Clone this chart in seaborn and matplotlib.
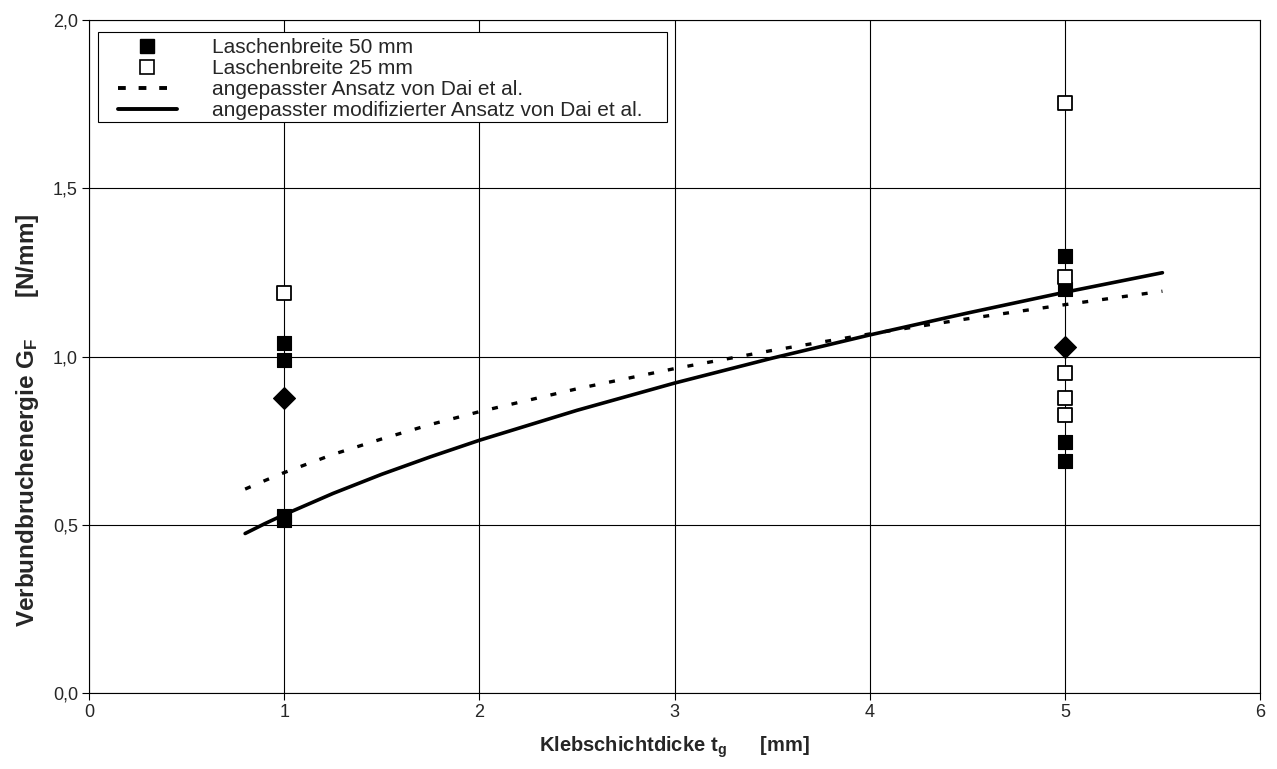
import numpy as np
import pandas as pd
import matplotlib
matplotlib.use("Agg")
import matplotlib.pyplot as plt
from matplotlib.lines import Line2D
from matplotlib.patches import Rectangle
from matplotlib.ticker import FuncFormatter
import seaborn as sns

# ---- data ----
x_50 = [1, 1, 1, 1, 5, 5, 5, 5]
g_50 = [1.04, 0.99, 0.515, 0.525, 1.30, 1.20, 0.745, 0.69]

x_25 = [1, 5, 5, 5, 5, 5]
g_25 = [1.19, 1.754, 1.237, 0.951, 0.877, 0.826]

x_mean = [1, 5]
g_mean = [0.878, 1.029]

x_fit = [0.8, 0.9, 1.0, 1.25, 1.5, 1.75, 2.0, 2.5, 3.0, 3.5, 4.0, 4.5, 5.0, 5.5]
g_dai = [0.606, 0.631, 0.655, 0.709, 0.755, 0.798, 0.836, 0.904, 0.964, 1.018,
         1.067, 1.112, 1.154, 1.194]
g_dai_mod = [0.474, 0.503, 0.530, 0.593, 0.650, 0.702, 0.751, 0.840, 0.921, 0.995,
             1.064, 1.129, 1.191, 1.249]

labels = ["Laschenbreite 50 mm", "Laschenbreite 25 mm",
          "angepasster Ansatz von Dai et al.",
          "angepasster modifizierter Ansatz von Dai et al."]

x_ticks = [0, 1, 2, 3, 4, 5, 6]
y_ticks = [0.0, 0.5, 1.0, 1.5, 2.0]

# ---- style ----
sns.set_theme(style="white")
plt.rcParams["font.family"] = ["Liberation Sans", "DejaVu Sans"]
plt.rcParams["mathtext.fontset"] = "custom"
plt.rcParams["mathtext.rm"] = "Liberation Sans:bold"
plt.rcParams["mathtext.bf"] = "Liberation Sans:bold"
plt.rcParams["mathtext.it"] = "Liberation Sans:bold"

W, H = 1277, 769
L, R, T, B = 89, 1260, 20, 693
fig = plt.figure(figsize=(W / 100, H / 100), dpi=100)
ax = fig.add_axes([L / W, 1 - B / H, (R - L) / W, (B - T) / H])

def ax_x(px):
    return (px - L) / (R - L)

def ax_y(py):
    return (B - py) / (B - T)

df_fit = pd.DataFrame({"x": x_fit, "dai": g_dai, "mod": g_dai_mod})
sns.lineplot(data=df_fit, x="x", y="dai", ax=ax, color="black", lw=2.4, zorder=3)
ax.lines[-1].set_dashes((1.8, 4.2))
sns.lineplot(data=df_fit, x="x", y="mod", ax=ax, color="black", lw=2.6, zorder=3)

sns.scatterplot(x=x_50, y=g_50, ax=ax, marker="s", s=105, color="black",
                edgecolor="black", linewidth=0.8, zorder=4)
sns.scatterplot(x=x_25, y=g_25, ax=ax, marker="s", s=105, facecolor="white",
                edgecolor="black", linewidth=1.3, zorder=4)
sns.scatterplot(x=x_mean, y=g_mean, ax=ax, marker="D", s=125, color="black",
                edgecolor="black", linewidth=0.8, zorder=4)

ax.set_xlim(0, 6)
ax.set_ylim(0, 2.0)
ax.set_xticks(x_ticks)
ax.set_yticks(y_ticks)
ax.xaxis.set_major_formatter(FuncFormatter(lambda v, p: f"{v:.0f}"))
ax.yaxis.set_major_formatter(FuncFormatter(lambda v, p: f"{v:.1f}".replace(".", ",")))
ax.tick_params(axis="both", labelsize=13, length=5, width=0.8, color="black",
               direction="out", bottom=True, left=True, pad=3)
ax.grid(True, color="black", lw=0.8)
ax.set_axisbelow(True)
for sp in ax.spines.values():
    sp.set_color("black")
    sp.set_linewidth(0.8)

ax.set_xlabel(r"Klebschichtdicke t$_\mathrm{g}$      [mm]", fontsize=14.5,
              fontweight="bold", labelpad=10)
ax.set_ylabel(r"Verbundbruchenergie G$_\mathrm{F}$      [N/mm]", fontsize=17.5,
              fontweight="bold")
ax.yaxis.set_label_coords(ax_x(41), ax_y(420))

# legend frame (drawn separately to get Excel-like asymmetric padding)
ax.add_patch(Rectangle((ax_x(98), ax_y(122)), ax_x(667) - ax_x(98),
                       ax_y(32) - ax_y(122), transform=ax.transAxes,
                       facecolor="white", edgecolor="black", lw=0.8, zorder=5))

handles = [
    Line2D([], [], ls="none", marker="s", ms=9.5, mfc="black", mec="black"),
    Line2D([], [], ls="none", marker="s", ms=9.5, mfc="white", mec="black", mew=1.2),
    Line2D([], [], color="black", lw=2.8, dashes=(2.0, 3.3)),
    Line2D([], [], color="black", lw=2.8),
]
leg = ax.legend(handles, labels, loc="upper left",
                bbox_to_anchor=(ax_x(118), ax_y(38)),
                fontsize=15, frameon=False, borderpad=0.0, labelspacing=0.1,
                handlelength=2.83, handletextpad=1.68, borderaxespad=0.0)
leg.set_zorder(6)

fig.savefig("out.png", dpi=100)
